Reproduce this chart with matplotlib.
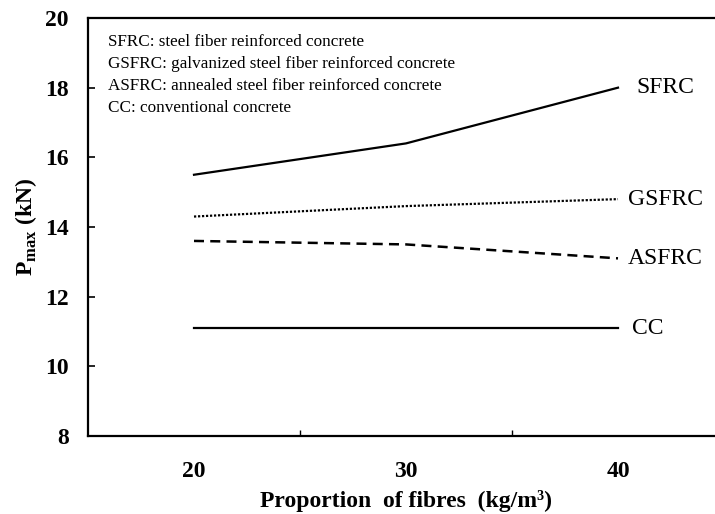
import matplotlib
matplotlib.use("Agg")
import matplotlib.pyplot as plt

categories = ["20", "30", "40"]
sfrc = [15.5, 16.4, 18.0]
gsfrc = [14.3, 14.6, 14.8]
asfrc = [13.6, 13.5, 13.1]
cc = [11.1, 11.1, 11.1]
series_names = ["SFRC", "GSFRC", "ASFRC", "CC"]
legend_lines = [
    "SFRC: steel fiber reinforced concrete",
    "GSFRC: galvanized steel fiber reinforced concrete",
    "ASFRC: annealed steel fiber reinforced concrete",
    "CC: conventional concrete",
]
yticks = [8, 10, 12, 14, 16, 18, 20]

plt.rcParams["font.family"] = ["Liberation Serif", "DejaVu Serif"]
plt.rcParams["mathtext.fontset"] = "custom"
plt.rcParams["mathtext.rm"] = "Liberation Serif"
plt.rcParams["mathtext.bf"] = "Liberation Serif:bold"

W, H = 715, 514
fig = plt.figure(figsize=(W / 100, H / 100), dpi=100)
left, right, bottom, top = 88, 724, 436, 18
ax = fig.add_axes([left / W, (H - bottom) / H, (right - left) / W, (bottom - top) / H])

xs = [i + 0.5 for i in range(len(categories))]
ax.plot(xs, sfrc, color="black", lw=1.6, ls="-")
ax.plot(xs, gsfrc, color="black", lw=1.6, ls=(0, (1, 0.8)))
ax.plot(xs, asfrc, color="black", lw=1.8, ls=(0, (4, 2.5)))
ax.plot(xs, cc, color="black", lw=1.6, ls="-")

ends = [sfrc[-1], gsfrc[-1], asfrc[-1], cc[-1]]
offs = [0.085, 0.047, 0.047, 0.066]
for name, yv, o in zip(series_names, ends, offs):
    ax.text(xs[-1] + o, yv, name, fontsize=17, ha="left", va="center")

ax.set_xlim(0, 3)
ax.set_ylim(8, 20)
ax.set_yticks(yticks)
ax.set_yticklabels([str(t) for t in yticks], fontsize=17, fontweight="bold")
ax.set_xticks(xs)
ax.set_xticklabels(categories, fontsize=17, fontweight="bold")
ax.set_xticks([1, 2], minor=True)
ax.tick_params(axis="x", which="major", length=0, pad=18)
ax.tick_params(axis="x", which="minor", direction="in", length=4, width=1)
ax.tick_params(axis="y", which="major", direction="in", length=5, width=1.2, pad=14)

for s in ["left", "bottom", "top"]:
    ax.spines[s].set_linewidth(1.6)
ax.spines["right"].set_visible(False)

ax.set_xlabel("Proportion  of fibres  (kg/m\u00b3)", fontsize=17, fontweight="bold", labelpad=6)
ax.set_ylabel(r"$\mathbf{P}_{\mathbf{max}}$ (kN)", fontsize=17, fontweight="bold", labelpad=4)

for i, line in enumerate(legend_lines):
    fig.text(108 / W, 1 - (42 + 22 * i) / H, line, fontsize=12.3, ha="left", va="center")

fig.savefig("out.png", dpi=100)
